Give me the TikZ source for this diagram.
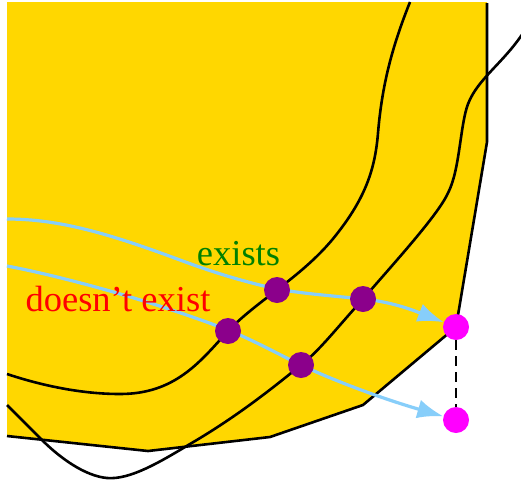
\documentclass[tikz,border=0pt]{standalone}
\usepackage{fontspec}
\setmainfont{Liberation Serif}
\usetikzlibrary{arrows.meta}
\definecolor{fillyellow}{HTML}{FFD700}
\definecolor{skyb}{HTML}{87CEFA}
\definecolor{dotpurple}{HTML}{8B008B}
\definecolor{dotpink}{HTML}{FF00FF}
\definecolor{txtgreen}{HTML}{008000}
\begin{document}
\begin{tikzpicture}[x=1pt,y=-1pt,
  blk/.style={line width=2.6pt, black, line join=round},
  flow/.style={line width=3.2pt, skyb, -{Latex[length=26pt,width=19pt]}},
  pdot/.style={circle, fill=dotpurple, minimum size=26pt, inner sep=0pt},
  mdot/.style={circle, fill=dotpink, minimum size=26pt, inner sep=0pt},
  gap/.style={line width=1.3pt, black, dash pattern=on 10pt off 6pt},
  lbl/.style={font=\fontsize{36.5}{40}\selectfont, inner sep=0pt, anchor=base}]
\clip (0,0) rectangle (521,482);
\fill[white] (0,0) rectangle (521,482);
% region
\fill[fillyellow] (7,2) -- (487,2) -- (487,142) -- (456,327) -- (363,405) -- (270,437) -- (148,451) -- (7,436) -- cycle;
\draw[blk] (487,3) -- (487,142) -- (456,327) -- (363,405) -- (270,437) -- (148,451) -- (7,436);
% black curves
\draw[blk] (410,2) .. controls (392,47) and (382,85) .. (378,133)
  .. controls (375,170) and (365,200) .. (332,240)
  .. controls (300,278) and (258,300) .. (228,331)
  .. controls (200,362) and (175,394) .. (120,394)
  .. controls (80,394) and (40,385) .. (7,374);
\draw[blk] (525,30) .. controls (505,62) and (478,78) .. (468,104)
  .. controls (460,125) and (460,170) .. (448,193)
  .. controls (438,215) and (395,262) .. (363,299)
  .. controls (335,330) and (320,350) .. (301,365)
  .. controls (280,382) and (240,415) .. (190,444)
  .. controls (160,462) and (130,480) .. (107,478)
  .. controls (85,476) and (60,458) .. (42,440)
  .. controls (30,428) and (18,416) .. (7,405);
% target dots
\node[mdot] (p1) at (456,327) {};
\node[mdot] (p2) at (456,420) {};
\draw[gap] (p1) -- (p2);
% flows
\coordinate (s1) at (7,219);
\coordinate (s2) at (7,266);
\draw[flow] (s1) .. controls (60,219) and (110,234) .. (180,260)
  .. controls (215,273) and (245,282) .. (277,289)
  .. controls (305,294) and (335,296) .. (363,299)
  .. controls (395,302) and (420,313) .. (p1);
\draw[flow] (s2) .. controls (60,276) and (150,300) .. (228,330)
  .. controls (255,341) and (278,354) .. (301,365)
  .. controls (330,379) and (380,398) .. (p2);
% intersection dots
\node[pdot] (a1) at (277,290) {};
\node[pdot] (a2) at (363,299) {};
\node[pdot] (b1) at (228,331) {};
\node[pdot] (b2) at (301,365) {};
% labels
\node[lbl, text=txtgreen] (ex) at (238.5,265) {exists};
\node[lbl, text=red] (dx) at (118,311) {doesn’t exist};
\end{tikzpicture}
\end{document}
